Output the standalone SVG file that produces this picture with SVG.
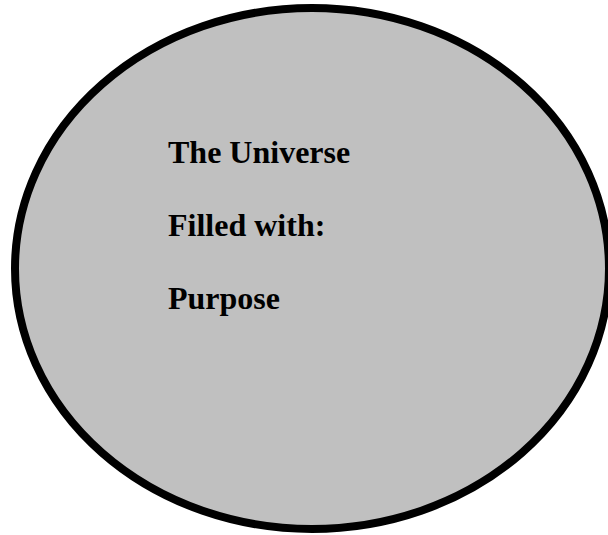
<svg xmlns="http://www.w3.org/2000/svg" width="608" height="535" viewBox="0 0 608 535">
<style>
.t{font-family:"Liberation Serif","Times New Roman",serif;font-weight:bold;font-size:32px;fill:#000}
</style>
<rect width="608" height="535" fill="#fff"/>
<g id="universe">
<ellipse cx="312" cy="268.5" rx="297" ry="260.5" fill="#c0c0c0" stroke="#000" stroke-width="8"/>
<text class="t" x="168" y="163">The Universe</text>
<text class="t" x="168" y="236">Filled with:</text>
<text class="t" x="168" y="309">Purpose</text>
</g>
</svg>
